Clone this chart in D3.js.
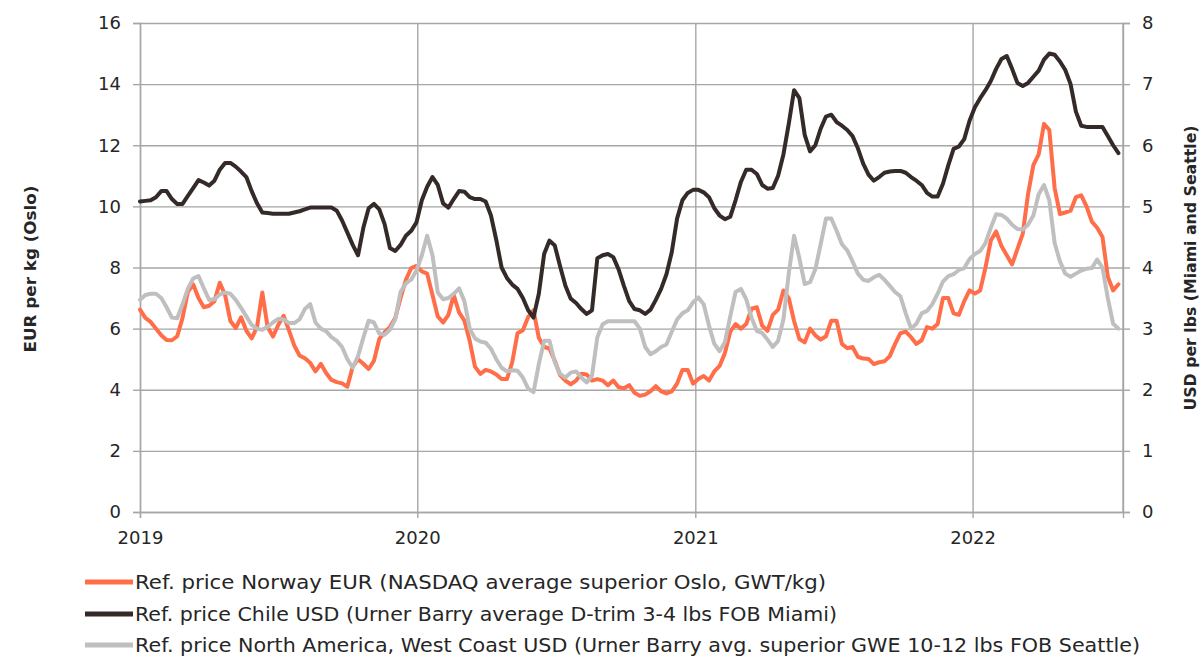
<!DOCTYPE html>
<html><head><meta charset="utf-8">
<script src="https://cdn.jsdelivr.net/npm/d3@7"></script>
<style>
html,body{margin:0;padding:0;background:#fff;}
svg{display:block;font-family:"DejaVu Sans",sans-serif;}
</style></head>
<body><svg id="chart" width="1204" height="658"></svg>
<script>
// Weekly reference prices, first week of 2019 to mid-July 2022
const startDate = new Date(2019, 0, 1);
const norwayEUR = [
6.62,6.35,6.22,6.0,5.78,5.63,5.62,5.75,6.35,7.2,
7.45,7.0,6.7,6.75,6.9,7.5,7.1,6.25,6.02,6.37,
5.93,5.68,6.05,7.18,6.05,5.74,6.12,6.42,5.95,5.45,
5.12,5.03,4.88,4.6,4.85,4.55,4.32,4.25,4.21,4.1,
4.75,5.0,4.85,4.68,4.95,5.66,5.88,6.05,6.35,7.0,
7.6,7.98,8.05,7.87,7.8,7.1,6.4,6.2,6.45,7.1,
6.53,6.26,5.6,4.75,4.52,4.65,4.6,4.5,4.35,4.35,
4.9,5.85,5.95,6.38,6.6,5.7,5.4,5.35,4.95,4.48,
4.3,4.18,4.3,4.52,4.5,4.3,4.35,4.3,4.15,4.3,
4.08,4.05,4.15,3.9,3.8,3.84,3.95,4.12,3.95,3.88,
3.95,4.2,4.65,4.65,4.2,4.35,4.45,4.3,4.6,4.78,
5.2,5.9,6.15,6.0,6.15,6.65,6.7,6.1,5.93,6.45,
6.62,7.25,7.0,6.25,5.66,5.55,6.0,5.78,5.64,5.75,
6.26,6.26,5.5,5.36,5.4,5.08,5.02,5.01,4.84,4.9,
4.93,5.1,5.5,5.85,5.9,5.72,5.5,5.62,6.05,6.0,
6.15,7.0,7.0,6.5,6.45,6.9,7.25,7.15,7.25,8.0,
8.88,9.18,8.7,8.4,8.1,8.6,9.1,10.4,11.35,11.7,
12.7,12.5,10.6,9.75,9.8,9.86,10.3,10.36,10.0,9.5,
9.3,9.0,7.7,7.25,7.45];
const chileUSD = [
5.08,5.09,5.10,5.15,5.25,5.25,5.12,5.04,5.04,5.17,
5.30,5.43,5.39,5.34,5.42,5.60,5.71,5.71,5.65,5.57,
5.48,5.25,5.05,4.90,4.89,4.88,4.88,4.88,4.88,4.90,
4.92,4.95,4.98,4.98,4.98,4.98,4.98,4.93,4.77,4.57,
4.37,4.20,4.65,4.97,5.04,4.95,4.71,4.32,4.27,4.37,
4.52,4.60,4.74,5.10,5.32,5.48,5.35,5.05,4.98,5.12,
5.25,5.24,5.15,5.12,5.12,5.08,4.85,4.45,4.00,3.83,
3.72,3.65,3.50,3.30,3.18,3.57,4.22,4.44,4.36,4.02,
3.70,3.49,3.42,3.32,3.24,3.30,4.15,4.20,4.22,4.17,
3.97,3.70,3.45,3.32,3.30,3.24,3.31,3.47,3.65,3.89,
4.25,4.80,5.10,5.22,5.27,5.27,5.23,5.15,4.97,4.85,
4.79,4.83,5.10,5.40,5.60,5.60,5.53,5.35,5.29,5.30,
5.50,5.85,6.35,6.90,6.77,6.17,5.90,6.00,6.27,6.47,
6.50,6.38,6.32,6.25,6.15,5.95,5.70,5.52,5.42,5.48,
5.55,5.57,5.58,5.58,5.55,5.48,5.42,5.35,5.22,5.16,
5.16,5.37,5.67,5.94,5.98,6.10,6.40,6.62,6.77,6.90,
7.05,7.25,7.41,7.46,7.25,7.02,6.97,7.02,7.12,7.22,
7.40,7.50,7.48,7.37,7.23,7.00,6.55,6.32,6.30,6.30,
6.30,6.30,6.15,6.00,5.87];
const westCoastUSD = [
3.47,3.55,3.57,3.57,3.50,3.35,3.18,3.17,3.40,3.65,
3.82,3.86,3.66,3.47,3.48,3.56,3.59,3.57,3.47,3.34,
3.20,3.06,3.00,2.98,3.03,3.10,3.16,3.15,3.09,3.09,
3.15,3.32,3.40,3.10,3.00,2.96,2.86,2.80,2.70,2.50,
2.36,2.55,2.85,3.13,3.10,2.92,2.90,2.98,3.15,3.60,
3.74,3.80,3.95,4.20,4.52,4.20,3.59,3.48,3.50,3.57,
3.66,3.45,3.00,2.84,2.79,2.77,2.67,2.50,2.36,2.30,
2.32,2.31,2.20,2.02,1.96,2.42,2.80,2.80,2.45,2.26,
2.20,2.28,2.30,2.20,2.12,2.23,2.86,3.07,3.12,3.12,
3.12,3.12,3.12,3.12,3.00,2.70,2.58,2.63,2.70,2.74,
2.95,3.15,3.25,3.30,3.43,3.51,3.40,3.05,2.75,2.63,
2.78,3.20,3.60,3.65,3.48,3.18,2.96,2.93,2.82,2.70,
2.80,3.15,3.90,4.52,4.15,3.73,3.76,3.97,4.38,4.80,
4.80,4.60,4.38,4.28,4.10,3.90,3.80,3.78,3.84,3.88,
3.80,3.70,3.60,3.53,3.25,3.00,3.08,3.25,3.29,3.40,
3.57,3.77,3.86,3.89,3.96,3.99,4.14,4.22,4.27,4.40,
4.65,4.87,4.86,4.80,4.70,4.63,4.62,4.70,4.85,5.20,
5.35,5.10,4.40,4.10,3.90,3.85,3.90,3.95,3.98,3.99,
4.13,4.00,3.50,3.08,3.00];
const leftTicks = [0,2,4,6,8,10,12,14,16];
const rightTicks = [0,1,2,3,4,5,6,7,8];
const yearTicks = ["2019","2020","2021","2022"];
const seriesNames = [
 "Ref. price Norway EUR (NASDAQ average superior Oslo, GWT/kg)",
 "Ref. price Chile USD (Urner Barry average D-trim 3-4 lbs FOB Miami)",
 "Ref. price North America, West Coast USD (Urner Barry avg. superior GWE 10-12 lbs FOB Seattle)"
];
const seriesColors = ["#ff6e48","#342a28","#bfbfbf"];

const svg = d3.select("#chart");
const L = 140, R = 1123, T = 23, B = 512;
const dates = norwayEUR.map((_, i) => d3.timeDay.offset(startDate, 7 * i));
const x = d3.scaleTime().domain([startDate, new Date(2022, 6, 18)]).range([L, R]);
const yL = d3.scaleLinear().domain([0, 16]).range([B, T]);
const yR = d3.scaleLinear().domain([0, 8]).range([B, T]);
const gridCol = "#a6a6a6", textCol = "#262626";
const yearDates = yearTicks.map(y => new Date(+y, 0, 1));

// horizontal gridlines
const gy = svg.append("g").attr("transform", `translate(${L},0)`)
  .call(d3.axisLeft(yL).tickValues(leftTicks).tickSize(-(R - L)).tickFormat(""));
gy.select(".domain").remove();
gy.selectAll("line").attr("stroke", gridCol).attr("stroke-width", 1.4);
// vertical gridlines
const gx = svg.append("g").attr("transform", `translate(0,${B})`)
  .call(d3.axisBottom(x).tickValues(yearDates).tickSize(-(B - T)).tickFormat(""));
gx.select(".domain").remove();
gx.selectAll("line").attr("stroke", gridCol).attr("stroke-width", 1.4);
svg.append("line").attr("x1", R).attr("x2", R).attr("y1", T).attr("y2", B)
  .attr("stroke", gridCol).attr("stroke-width", 1.4);

// left axis
const axL = svg.append("g").attr("transform", `translate(${L},0)`)
  .call(d3.axisLeft(yL).tickValues(leftTicks).tickSize(7).tickPadding(12));
// right axis
const axR = svg.append("g").attr("transform", `translate(${R},0)`)
  .call(d3.axisRight(yR).tickValues(rightTicks).tickSize(7).tickPadding(12));
// bottom axis
const axB = svg.append("g").attr("transform", `translate(0,${B})`)
  .call(d3.axisBottom(x).tickValues(yearDates).tickSize(6).tickPadding(13).tickFormat((d, i) => yearTicks[i]));
[axL, axR, axB].forEach(a => {
  a.select(".domain").attr("stroke", gridCol).attr("stroke-width", 1.4);
  a.selectAll(".tick line").attr("stroke", gridCol).attr("stroke-width", 1.4);
  a.selectAll("text").attr("fill", textCol).style("font-size", "18px")
    .style("font-family", "'DejaVu Sans', sans-serif");
});

// lines
const lineL = d3.line().x((d, i) => x(dates[i])).y(d => yL(d)).curve(d3.curveLinear);
const lineR = d3.line().x((d, i) => x(dates[i])).y(d => yR(d)).curve(d3.curveLinear);
const plot = svg.append("g").attr("fill", "none").attr("stroke-width", 4)
  .attr("stroke-linejoin", "round").attr("stroke-linecap", "round");
plot.append("path").datum(norwayEUR).attr("d", lineL).attr("stroke", seriesColors[0]);
plot.append("path").datum(chileUSD).attr("d", lineR).attr("stroke", seriesColors[1]);
plot.append("path").datum(westCoastUSD).attr("d", lineR).attr("stroke", seriesColors[2]);

// axis titles
svg.append("text").attr("transform", "translate(36,269) rotate(-90)")
  .attr("text-anchor", "middle").attr("font-weight", "bold").attr("font-size", 16)
  .attr("fill", textCol).attr("textLength", 167).attr("lengthAdjust", "spacingAndGlyphs")
  .text("EUR per kg (Oslo)");
svg.append("text").attr("transform", "translate(1196,268) rotate(-90)")
  .attr("text-anchor", "middle").attr("font-weight", "bold").attr("font-size", 16)
  .attr("fill", textCol).attr("textLength", 285).attr("lengthAdjust", "spacingAndGlyphs")
  .text("USD per lbs (Miami and Seattle)");

// legend
const legY = [582, 614, 645];
const legW = [691, 702, 1005];
seriesNames.forEach((n, i) => {
  svg.append("line").attr("x1", 85).attr("x2", 133).attr("y1", legY[i]).attr("y2", legY[i])
    .attr("stroke", seriesColors[i]).attr("stroke-width", 5);
  svg.append("text").attr("x", 135).attr("y", legY[i] + 7).attr("font-size", 19)
    .attr("fill", textCol).attr("textLength", legW[i]).attr("lengthAdjust", "spacingAndGlyphs")
    .text(n);
});
</script></body></html>
